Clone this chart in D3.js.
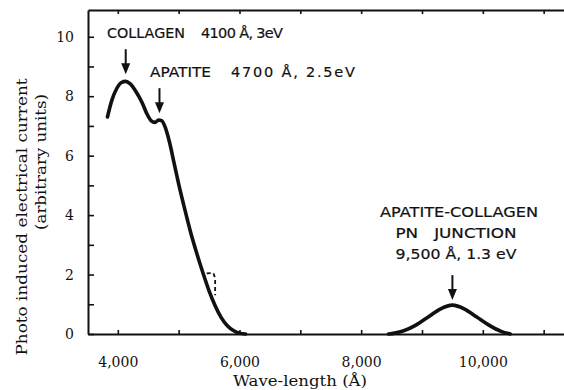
<!DOCTYPE html>
<html>
<head>
<meta charset="utf-8">
<script src="https://cdn.jsdelivr.net/npm/d3@7"></script>
<style>
  body { margin: 0; background: #fff; }
  .lbl { font-family: "DejaVu Serif", serif; font-size: 14px; fill: #111; }
  .note { font-family: "DejaVu Sans", sans-serif; font-size: 14.5px; fill: #111; stroke: #111; stroke-width: 0.2px; white-space: pre; }
</style>
</head>
<body>
<svg id="svg1" width="564" height="390"></svg>
<script>
// main band: wave-length (Å) vs current
var wave1 = [3830, 3900, 3980, 4060, 4130, 4200, 4300, 4400, 4480, 4550, 4610, 4670, 4720, 4780, 4850, 4920, 5000, 5100, 5200, 5300, 5400, 5500, 5600, 5700, 5800, 5900, 6000, 6100];
var curr1 = [7.3, 7.85, 8.25, 8.46, 8.5, 8.42, 8.15, 7.78, 7.4, 7.17, 7.12, 7.2, 7.18, 6.95, 6.45, 5.8, 5.05, 4.2, 3.4, 2.7, 2.05, 1.45, 0.95, 0.55, 0.28, 0.12, 0.03, 0];
// pn junction band
var wave2 = [8450, 8550, 8700, 8900, 9100, 9300, 9500, 9700, 9900, 10100, 10300, 10450];
var curr2 = [0, 0.03, 0.11, 0.3, 0.57, 0.84, 0.97, 0.84, 0.57, 0.3, 0.09, 0];
// dashed bracket near 5,600
var waveD = [5460, 5570, 5600, 5600];
var currD = [2.04, 2.05, 1.88, 1.3];

var xTicks = [4000, 5000, 6000, 7000, 8000, 9000, 10000, 11000];
var yTicks = [0, 1, 2, 3, 4, 5, 6, 7, 8, 9, 10];

var svg = d3.select("#svg1"),
  margin = {top: 10, right: -4, bottom: 56, left: 88},
  width = +svg.attr("width") - margin.left - margin.right,
  height = +svg.attr("height") - margin.top - margin.bottom,
  g = svg.append("g").attr("transform", "translate(" + margin.left + "," + margin.top + ")");

var x = d3.scaleLinear().domain([3510, 11400]).range([0, width]);
var y = d3.scaleLinear().domain([0, 10.9]).range([height, 0]);

var fmt = d3.format(",");

// axes
var xb = g.append("g")
  .attr("transform", "translate(0," + height + ")")
  .call(d3.axisBottom(x).tickValues(xTicks).tickSizeInner(-4).tickSizeOuter(0).tickPadding(23)
    .tickFormat(function(d) { return d % 2000 == 0 ? fmt(d) : ""; }));
var xt = g.append("g")
  .call(d3.axisTop(x).tickValues(xTicks).tickSizeInner(-4).tickSizeOuter(0).tickFormat(""));
var yl = g.append("g")
  .call(d3.axisLeft(y).tickValues(yTicks).tickSizeInner(-6).tickSizeOuter(0).tickPadding(14)
    .tickFormat(function(d) { return d % 2 == 0 ? d : ""; }));

[xb, xt, yl].forEach(function(a) {
  a.select(".domain").attr("stroke", "#111").attr("stroke-width", 2);
  a.selectAll(".tick line").attr("stroke", "#111").attr("stroke-width", 1.6);
  a.selectAll("text").attr("class", "lbl").attr("font-family", null).attr("font-size", null);
});

// axis titles
svg.append("text").attr("class", "lbl")
  .attr("transform", "translate(27,217) rotate(-90)")
  .attr("text-anchor", "middle")
  .attr("textLength", 277).attr("lengthAdjust", "spacingAndGlyphs")
  .text("Photo induced electrical current");
svg.append("text").attr("class", "lbl")
  .attr("transform", "translate(46,162) rotate(-90)")
  .attr("text-anchor", "middle")
  .attr("textLength", 136).attr("lengthAdjust", "spacingAndGlyphs")
  .text("(arbitrary units)");
svg.append("text").attr("class", "lbl")
  .attr("x", 300).attr("y", 386)
  .attr("text-anchor", "middle")
  .attr("textLength", 134).attr("lengthAdjust", "spacingAndGlyphs")
  .text("Wave-length (Å)");

// curves
var line = d3.line()
  .x(function(d) { return x(d[0]); })
  .y(function(d) { return y(d[1]); })
  .curve(d3.curveMonotoneX);

g.append("path")
  .datum(d3.zip(wave1, curr1))
  .attr("fill", "none")
  .attr("stroke", "#111")
  .attr("stroke-width", 3.6)
  .attr("stroke-linejoin", "round")
  .attr("stroke-linecap", "round")
  .attr("d", line);
g.append("path")
  .datum(d3.zip(wave2, curr2))
  .attr("fill", "none")
  .attr("stroke", "#111")
  .attr("stroke-width", 3.6)
  .attr("stroke-linejoin", "round")
  .attr("stroke-linecap", "round")
  .attr("d", line);
g.append("path")
  .datum(d3.zip(waveD, currD))
  .attr("fill", "none")
  .attr("stroke", "#111")
  .attr("stroke-width", 1.8)
  .attr("stroke-dasharray", "4,3")
  .attr("d", line.curve(d3.curveLinear));

// arrows
var arrows = [[4130, 9.58, 8.74], [4685, 8.27, 7.43], [9500, 1.98, 1.14]];
arrows.forEach(function(a) {
  var ax = x(a[0]), y0 = y(a[1]), y1 = y(a[2]);
  g.append("line").attr("x1", ax).attr("x2", ax).attr("y1", y0).attr("y2", y1 - 8)
    .attr("stroke", "#111").attr("stroke-width", 2);
  g.append("path")
    .attr("d", "M" + (ax - 4.5) + "," + (y1 - 11) + "L" + (ax + 4.5) + "," + (y1 - 11) + "L" + ax + "," + y1 + "Z")
    .attr("fill", "#111");
});

// annotations: text, x, baseline, anchor, length, adjust
var notes = [
  ["COLLAGEN", 107, 38, "start", 78, "spacingAndGlyphs"], ["4100 Å, 3eV", 201, 38, "start", 82, "spacing"],
  ["APATITE", 150, 77, "start", 61, "spacingAndGlyphs"], ["4700 Å, 2.5eV", 231, 77, "start", 124, "spacing"],
  ["APATITE-COLLAGEN", 459, 217, "middle", 158, "spacingAndGlyphs"],
  ["PN   JUNCTION", 456, 238, "middle", 121, "spacingAndGlyphs"],
  ["9,500 Å, 1.3 eV", 456, 259, "middle", 121, "spacingAndGlyphs"]
];
notes.forEach(function(n) {
  svg.append("text").attr("class", "note")
    .attr("x", n[1]).attr("y", n[2]).attr("text-anchor", n[3])
    .attr("textLength", n[4]).attr("lengthAdjust", n[5])
    .text(n[0]);
});
</script>
</body>
</html>
